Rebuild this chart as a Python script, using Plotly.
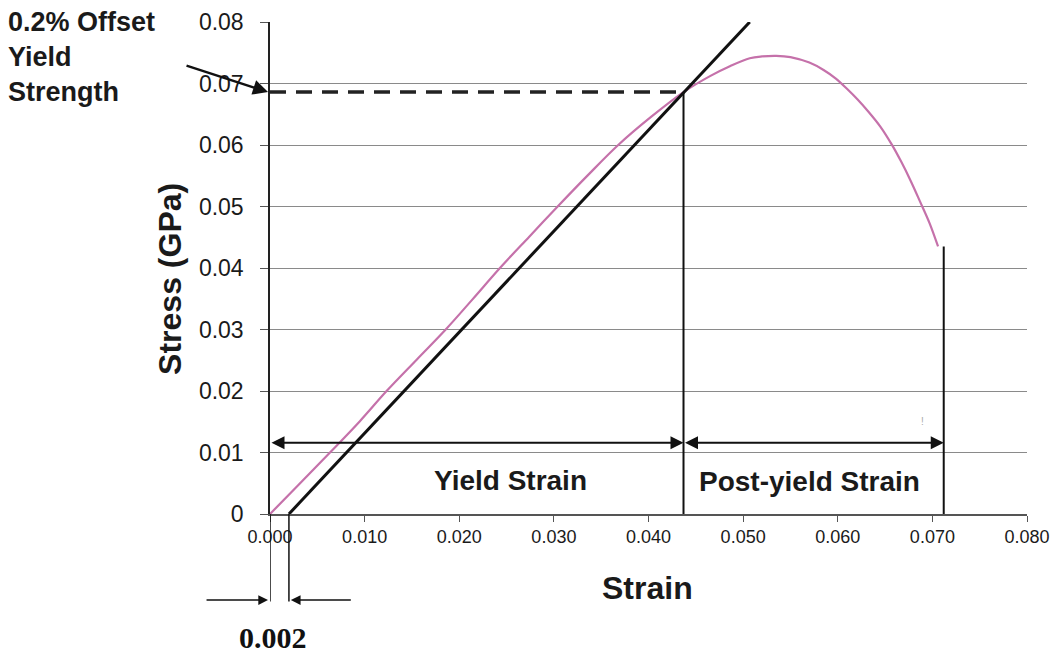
import plotly.graph_objects as go

# ---- data ----
curve_strain = [0.0, 0.0030, 0.00634, 0.0095, 0.01232, 0.0155, 0.01857, 0.0214, 0.0243,
                0.0274, 0.0304, 0.0336, 0.0368, 0.0403, 0.0437, 0.0465, 0.0486, 0.0507,
                0.0520, 0.0535, 0.0550, 0.0570, 0.0585, 0.0598, 0.0610, 0.0621, 0.0632,
                0.0645, 0.0657, 0.0667, 0.0677, 0.0687, 0.0697, 0.0706]
curve_stress = [0.0, 0.0047, 0.0100, 0.0151, 0.0200, 0.0251, 0.0300, 0.0349, 0.0400,
                0.0451, 0.0500, 0.0551, 0.0600, 0.0646, 0.0686, 0.0712, 0.0728, 0.0741,
                0.0744, 0.0745, 0.0743, 0.0734, 0.0722, 0.0708, 0.0691, 0.0674, 0.0655,
                0.0630, 0.0601, 0.0573, 0.0542, 0.0508, 0.0473, 0.0435]

offset_strain = [0.002, 0.0507]
offset_stress = [0.0, 0.08]

yield_strain = 0.0437
yield_stress = 0.0686
fracture_strain = 0.0712
fracture_stress = 0.0435
arrow_stress = 0.0116
offset_value = 0.002

x_ticks = [0.0, 0.01, 0.02, 0.03, 0.04, 0.05, 0.06, 0.07, 0.08]
x_labels = ["0.000", "0.010", "0.020", "0.030", "0.040", "0.050", "0.060", "0.070", "0.080"]
y_ticks = [0.0, 0.01, 0.02, 0.03, 0.04, 0.05, 0.06, 0.07, 0.08]
y_labels = ["0", "0.01", "0.02", "0.03", "0.04", "0.05", "0.06", "0.07", "0.08"]

SANS = "Liberation Sans, Arial, sans-serif"
SERIF = "Liberation Serif, Times New Roman, serif"

fig = go.Figure()

# stress-strain curve
fig.add_trace(go.Scatter(x=curve_strain, y=curve_stress, mode="lines",
                         line=dict(color="#c571aa", width=2.2, shape="spline", smoothing=1.0),
                         hoverinfo="skip", showlegend=False))
# 0.2% offset line
fig.add_trace(go.Scatter(x=offset_strain, y=offset_stress, mode="lines",
                         line=dict(color="#111111", width=3), showlegend=False))
# dashed yield strength line
fig.add_trace(go.Scatter(x=[0.0, yield_strain], y=[yield_stress, yield_stress], mode="lines",
                         line=dict(color="#222222", width=3.5, dash="16px,10px"), showlegend=False))
# vertical lines at yield and fracture
fig.add_trace(go.Scatter(x=[yield_strain, yield_strain], y=[0.0, yield_stress], mode="lines",
                         line=dict(color="#111111", width=2), showlegend=False))
fig.add_trace(go.Scatter(x=[fracture_strain, fracture_strain], y=[0.0, fracture_stress], mode="lines",
                         line=dict(color="#111111", width=2), showlegend=False))

shapes = []
# vertical lines below axis marking 0.002 offset
for xv in [0.0, offset_value]:
    shapes.append(dict(type="line", xref="x", yref="paper", x0=xv, x1=xv, y0=0, y1=-0.178,
                       line=dict(color="#111111", width=1.5), layer="above"))

annotations = []

def dbl_arrow(x_from, x_to, y):
    annotations.append(dict(x=x_to, y=y, xref="x", yref="y", ax=x_from, ay=y, axref="x", ayref="y",
                            text="", showarrow=True, arrowside="end+start",
                            arrowhead=2, startarrowhead=2, arrowsize=1.3, startarrowsize=1.3,
                            arrowwidth=2, arrowcolor="#111111", standoff=0, startstandoff=0))

dbl_arrow(0.0, yield_strain, arrow_stress)
dbl_arrow(yield_strain, fracture_strain, arrow_stress)

# bottom arrows around 0.002
annotations.append(dict(x=-0.0026, y=-0.175, xref="paper", yref="paper", ax=-63, ay=0,
                        text="", showarrow=True, arrowhead=2,
                        arrowsize=1.3, arrowwidth=1.5, arrowcolor="#111111", standoff=0))
annotations.append(dict(x=offset_value + 0.0002, y=-0.175, xref="x", yref="paper", ax=0.0087, axref="x",
                        ay=0, ayref="pixel", text="", showarrow=True, arrowhead=2,
                        arrowsize=1.3, arrowwidth=1.5, arrowcolor="#111111", standoff=0))

# top-left pointer arrow
annotations.append(dict(x=-0.0026, y=yield_stress / 0.08, xref="paper", yref="paper", ax=-83, ay=-27,
                        text="", showarrow=True, arrowhead=2, arrowsize=1.2, arrowwidth=2.5,
                        arrowcolor="#111111", standoff=0))

# texts
def label(text, x, y, xref, yref, size, family=SANS, angle=0, color="#1a1a1a"):
    annotations.append(dict(x=x, y=y, xref=xref, yref=yref, text=text, textangle=angle,
                            xanchor="center", yanchor="middle", showarrow=False,
                            font=dict(family=family, size=size, color=color)))

label("<b>Yield Strain</b>", 0.02545, 0.0054, "x", "y", 28)
label("<b>Post-yield Strain</b>", 0.0570, 0.0053, "x", "y", 28)
label("!", 0.069, 0.015, "x", "y", 10, color="#aaaaaa")
label("<b>Strain</b>", 0.4993, -0.150, "paper", "paper", 32)
label("<b>Stress (GPa)</b>", -0.132, 0.478, "paper", "paper", 32, angle=-90)
label("<b>0.002</b>", 0.004, -0.252, "paper", "paper", 30, family=SERIF, color="#111111")

annotations.append(dict(x=-0.349, y=1.035, xref="paper", yref="paper", xanchor="left", yanchor="top",
                        align="left", text="<b>0.2% Offset<br>Yield<br>Strength</b>", showarrow=False,
                        font=dict(family=SANS, size=27, color="#1a1a1a")))

fig.update_layout(
    width=1056, height=656,
    margin=dict(l=270, r=29, t=22, b=142, autoexpand=False),
    paper_bgcolor="#ffffff", plot_bgcolor="#ffffff",
    showlegend=False,
    shapes=shapes, annotations=annotations,
    xaxis=dict(range=[0, 0.08], tickvals=x_ticks, ticktext=x_labels,
               showgrid=False, zeroline=False, showline=True, linecolor="#555555", linewidth=1.5,
               ticks="outside", ticklen=6, tickcolor="#555555",
               tickfont=dict(family=SANS, size=18, color="#1a1a1a")),
    yaxis=dict(range=[0, 0.08], tickvals=y_ticks, ticktext=y_labels,
               showgrid=True, gridcolor="#8a8a8a", gridwidth=1, zeroline=False,
               showline=True, linecolor="#222222", linewidth=1.5,
               ticks="outside", ticklen=8, tickcolor="#555555", ticklabelstandoff=12,
               tickfont=dict(family=SANS, size=23, color="#1a1a1a")),
)

fig.write_html("out.html", config={"displayModeBar": False},
               post_script="document.body.style.margin='0';")
